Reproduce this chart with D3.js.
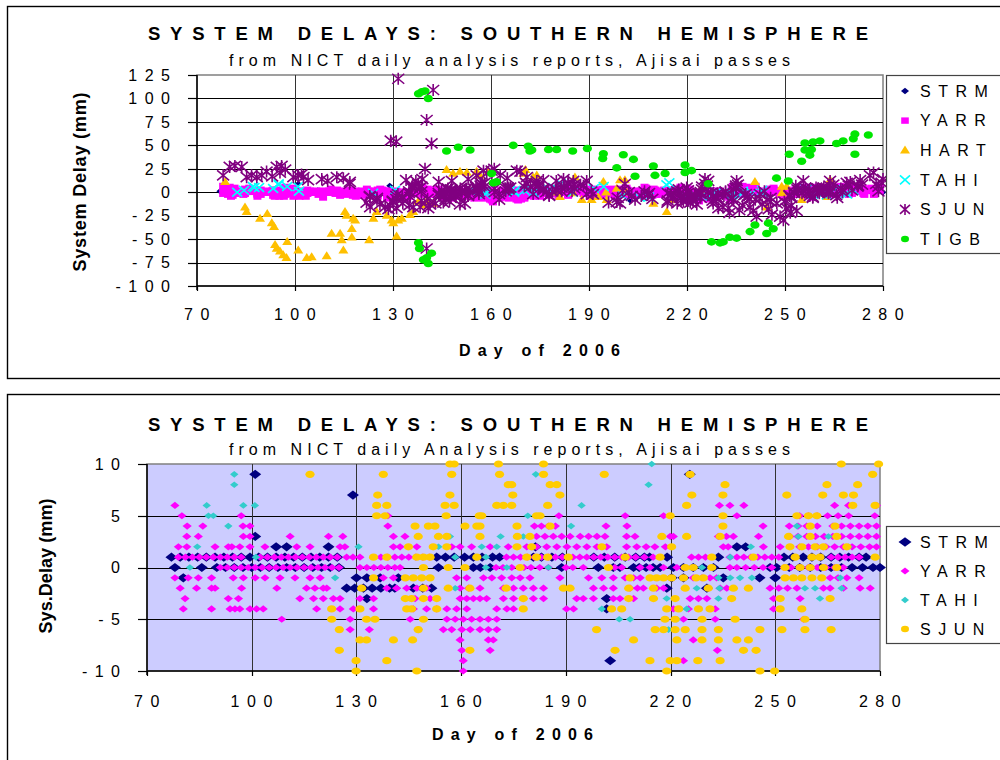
<!DOCTYPE html>
<html><head><meta charset="utf-8">
<script src="https://cdn.jsdelivr.net/npm/d3@7"></script>
<style>
html,body{margin:0;padding:0;background:#fff;}
svg{display:block;font-family:Arial,"Liberation Sans",sans-serif;}
</style></head><body>
<svg id="c" width="1000" height="760"></svg>
<script>
// ---------- tick labels / categories ----------
const dayTicks = [70,100,130,160,190,220,250,280];
const topYTicks = [-100,-75,-50,-25,0,25,50,75,100,125];
const botYTicks = [-10,-5,0,5,10];
const topSeriesNames = ["STRM","YARR","HART","TAHI","SJUN","TIGB"];
const botSeriesNames = ["STRM","YARR","TAHI","SJUN"];

// ---------- station delays (mm) by level: [value, [days...]] ----------
const STRM = [
 [9,[101,225.5]],[7,[129]],[3,[101]],
 [2,[107,110,122,181.3,239,241.5]],
 [1,[77,79.5,82,84.5,87,89.5,92,94.5,97,99.5,102,104.5,107,109.5,112,114.5,117,119.5,122,124.5,153,155.5,158,161,163.5,166,169,171,180.7,183,186,189,198,201,204,207,210,212.5,214,219,233.7,252.5,255,258,260.5,263,266,268.5,271,274,276]],
 [0,[78,85.7,90,92.5,95,97.5,100,102.5,105,107.5,110,112.5,115,117.5,120,122.5,125,153.5,163.5,165.5,168.3,188.8,199.3,203.6,205.5,209.4,211,213,215,217,220.8,223.7,226.5,229.4,232.3,248.5,250.4,254,257,260,263,266,269,272,275,278,280]],
 [-1,[80.4,130,133,136.8,142,220.3,223.7,235.1,245.5,250]],
 [-2,[127.2,129.5,132,134.5,137,139.5,141,146.3,149,151.5,218.9,230.4]],
 [-3,[133,201.7]],[-4,[201.7]],[-9,[202.7]]
];
const YARR = [
 [6,[78,234,237,241,267,271,279]],
 [5,[80,97,139,188,207,218,239,257,259.5,262,265,268,271,278.5]],
 [4,[81.5,86,97.5,99.5,139,181,183,185,187,201.5,207.5,246.5,254,256.5,259,262,266.5,269,271.5,274,276.5,279]],
 [3,[81.4,84.7,97.6,99.5,111,122,126.1,140.6,143.9,181.6,184,186.4,188.8,191.2,194.1,196.5,198.9,201.2,207.4,209.8,219.9,220.8,233.7,236,238,245.2,254.2,256.5,259,261.5,264,266.5,269,271.5,274,276.5,279]],
 [2,[79,81.4,89.5,93.3,94.3,96.6,99.5,103.8,112.9,116.7,125.3,126.7,140.6,142.5,147.3,157.3,159.7,163,168.3,173.5,178.8,181.6,184.5,187.4,190.3,193.1,196,198.9,201.7,207.4,210.3,213,215.5,218.5,235.1,236.5,246.6,251.4,257,259.5,262,264.5,267,269.5,272,274.5,277,279]],
 [1,[79,81,83,85,87,89,91,93,95,97,102.4,104.5,106.5,108.5,110.5,112.5,114.5,116.5,118.5,120.5,122.5,124.5,127.2,129,131,137,139,141,143,145,147,149,151,173,175,177,179,181,183,185,187,189,192,194,196,198,200,202,204,206,208,210,212.5,215,226,228,230,237,239,241,243,245,247,249,251,266,268,270,272,274]],
 [0,[91,93,95,97,99,101,103,105,107,109,111,113,115,117,119,121,123,125,131,133,135,137,139,141,142.5,170,172,174.5,178,180,182.5,185,190,192,195,204,206,211.3,214.1,218,221.8,237,239,241.5,244,246.5,249,252.5,254.5,257,259.5,262,264.5,267,269.5]],
 [-1,[78,81.8,84.7,88.5,94.7,97.6,101,103.8,108.1,112.4,116.7,119.6,137.7,140.6,158.7,161.6,166.4,168.8,171.6,174.5,176.9,179.7,188.3,196.5,200.3,203.6,207,209.4,211.3,226.5,229,231.3,233.2,265.7,268,270.5,274]],
 [-2,[79.5,84.2,88.5,89.5,97.1,107.2,115.7,118.1,120.5,121.5,138.7,141.5,144.4,147.3,150.1,159.7,162.1,165.4,172.1,175,177.8,180.7,183.6,197.9,200.8,203.6,208.4,210.5,212.2,216,218,234.2,236.1,248.5,251,253.5,256.2,263.8,265.7,269.5,274.3,277.2]],
 [-3,[80.9,93.3,96.2,113.8,117.7,120.5,123.4,125.3,131,134.9,146.8,151.1,159.7,161.6,163.5,165.4,167.3,172.1,175,177.8,180.7,183.6,193.1,195,197.9,203.6,205.5,209.4,225.6,228,230.4,249.5,257.1]],
 [-4,[80.4,88.5,93.8,95.2,96.6,99.5,101.4,103.3,118.6,125.3,129.1,134.9,146.3,150.1,153,155.9,158.7,161.6,170.2,173.1,175,190.2,192.2,220.8,225.1,232.8,249.5]],
 [-5,[108.6,128.2,145.4,155.9,158.3,160.6,163,165.4,167.8,170.2,223.7,232.8,258.1]],
 [-6,[128.2,133.7,147.7,154.9,157.3,160.2,162.6,165.4,167.8,170.2]],
 [-7,[159.7,167.8,169.2,226.5]],[-8,[160.2,168.3,233.4]],[-9,[160.6,223.7]],[-10,[160.6]]
];
const TAHI = [
 [10,[214.6]],[9,[95,181.4]],[8,[95,213.7]],[6,[87.1,97.6,100.9,194.5]],[5,[87.6,89,179.1]],
 [4,[93.3,191.5,256.2]],[3,[156.8,171.3,177.8,256.6,265.2]],
 [2,[84.4,130.6,153.5,165.9,170.2,243,271]],[1,[101.2,158.3,167.1,237.1]],
 [0,[82.3,167.1,173.1,185,229]],[-1,[123.9,233.7,237.1,239.9,243.3,268.6]],
 [-2,[158.3,227.5,234,258.5,261.4,269]],[-3,[218.9,233.7,262.8]],
 [-4,[200.3,222.7,224.6]],[-5,[205.3,208.4,221.8]],[-6,[219.4]]
];
const SJUN = [
 [10,[156.8,158,170.7,183.6,268.9,279.6]],
 [9,[116.7,137.7,157.3,171,183.6,201,225.6,277.9]],
 [8,[173.5,174.5,185.5,187.4,235.6,264.8,273.6]],
 [7,[136.1,156.8,174.8,188.3,226.1,235,253.3,263.6,269.5,272.4]],
 [6,[135.8,138.7,155.4,158,170.2,172.1,174.5,184.8,224.6,272.2,278.6]],
 [5,[135.8,138.2,155.7,165.2,165.9,181.6,182.6,219.9,235,256.2,259.5,261.9]],
 [4,[146.8,150.6,152.5,161.1,164.5,165.4,176,185.5,235,260,267.1]],
 [3,[147.7,153.5,155.9,165.4,176.1,179.7,217.5,224.6,234.2,253.8,260,267.6]],
 [2,[144.9,152,155.9,176,180.2,200.3,220.3,254.2,257.6,261.4,263.8,270.5]],
 [1,[134.9,138.7,147.3,149.2,151.1,164.5,178.8,181.6,184.8,190.7,207,217,231.8,243.7,255.7,260.5,262.8,278.6]],
 [0,[149.2,156.3,161.1,176.9,202.2,224.2,226.5,231.8,252.8,257.1,260,263.8,267.6]],
 [-1,[134.9,144,146.3,148.7,151.1,208.4,214.1,216,218,220.3,223.7,227.3,229.4,252.8,255.2,257.6,260.5,263.3]],
 [-2,[131.5,149.2,156.3,162.5,172.9,189.3,191.2,208,215.1,224.2,230.8,238,242.3]],
 [-3,[144,145.8,149.2,153,177.8,208,215.1,221.3,237.5,251.4,265.7]],
 [-4,[122.9,131,144.4,145.8,153,177.8,203.1,206,218.9,222.3,228,231.3,251.4,257.6]],
 [-5,[122.9,132.9,135.3,149.2,218.4,221.3,229,238.5,258.5]],
 [-6,[125.1,147.7,198.8,215.6,218,221.3,224.2,229,233.7,245.6,251.9,258.5,266]],
 [-7,[131,132.9,140.6,146.1,209.4,221.8,229,233.7,239,242.3]],
 [-8,[125.1,162.5,204.1,240.9,244.5]],
 [-9,[129.9,138.7,214.1,219.9,221.8,227.8,234.2]],
 [-10,[129.9,147.3,218.9,245.6,249.8]]
];
// SJUN values beyond +/-10 mm (visible only in the wide-range chart): [day, value]
const SJUN_WIDE = [
 [78,18],[80,27],[81.6,28],[83.7,27],[85.2,16],[86.7,18],[88.3,16],[89.8,18],[91.3,22],[93,17],[94.4,27],[95.4,21],[95.9,28],[97,24],[99.5,16],[101,18],[102,19],[102.6,16],[104,13],[108.2,14],[110,12],[112.8,16],[114.8,15],[116.8,11],
 [121.9,-11],[123,-16],[126,-13],[127.6,-16],[128.6,-18],[129.1,-14],[131.1,-17],[133,-12],[135,-14],[136.2,-16],[138.3,-16],[140.8,-17],[141.3,-13],[143,-12],[145.4,-11],[150.5,-13],[152,-12],
 [134,13],[137,12],[139,14],[144,11],[148,12],[153,14],[155.6,18],[157.7,23],[158.7,20],[160.2,23],[161,25],[162.8,18],[165,15],[167.9,23],
 [129.3,55],[131,54],[131.6,121],[140.3,77],[142.3,109],[141.8,52],[139.8,25],[140.3,-60],
 [169,22],[171,16],[174,12],[176,13],[180,12],[182.2,14],[185.2,12],[189.3,12],[196,-11],[198.5,-10.5],[199.5,-12],
 [214,-11],[217,-12],[221,-11],[223,-13],[225.5,14],[226.5,12],[228,-12],[229.6,-17],[231,-16],[233,-22],[232.7,-17],[235.2,12],[236,-19],[237,-14],[239.3,-16],[240.3,-20],[241.3,-26],
 [243,-13],[245,-18],[246,-24],[247.5,-12],[248.5,-26],[249.5,-30],[250.5,-17],[251.6,-22],[252,-14],[253.6,-20],
 [255.6,12],[263.8,12],[270,11],[273,13],[276,18],[277.1,21],[280,14]
];
const HART = [
 [78.6,11],[84.7,-16],[85.2,-21],[89.3,-28],[91.5,-23],[92.9,-33],[93.6,-37],[93.9,-56],[94.4,-60],[95.4,-63],[96.4,-67],[97.4,-70],[97.6,-53],[101,-62],[103.6,-70],[105.1,-69],[109.7,-68],[111.2,-44],[113.8,-44],[114.3,-51],[114.8,-62],[115.3,-21],[115.8,-25],[117.4,-39],[117.8,-28],[118.4,-30],[117.4,-48],[122.7,-51],[124,-28],[125,-21],[128.1,-25],[129.6,-30],[130.1,-33],[131.1,-47],[131.6,-30],[132.7,-28],[135.2,-24],[136.2,-21],[137.7,-10],[139.3,-14],[140.3,-10],[142.3,-12],
 [146.4,24],[148.4,20],[150.5,22],[152.6,21],[155.6,22],[156.6,18],[159.2,22],[169.9,20],[170.5,24],[172.9,16],[174,18],[179.6,0],[181.1,-5],[185.2,-1],[185.7,16],[187.8,-8],[190.8,-8],[192.8,-5],[194.4,11],[195.2,0],[195.4,-8],[198.5,4],[199.5,13],[201,13],[201.5,0],[209.7,-12],[213.8,-21],[215.8,-8],[224,2],[240.8,11],[244.4,-16],[249,6],[249,-1],[250.5,6],[255.1,-8],[262.8,-5],[263.8,13]
];
const TIGB = [
 [137.8,105],[138.8,107],[139.8,108],[140.8,100],
 [137.8,-54],[138.1,-60],[139.3,-72],[140.3,-70],[140.8,-76],[141.8,-65],
 [146.4,44],[150,48],[153.6,45],[160.2,20],[160.7,10],[161.7,11],[166.8,50],[171.4,49],[171.9,44],
 [172.5,45],[177.6,45.5],[180.1,45.5],[185,44],[189.5,46.6],[194.4,41],[194.2,36],[200.5,40],[203.6,35],[198.5,26],[204.1,17],
 [209.7,28],[210.2,18],[213.3,20],[219.4,29],[219.4,21],[221.4,23],[226.5,9],
 [227.5,-53],[230.1,-54],[231.1,-53],[233.1,-48],[235.2,-49],[239.3,-42],[240.8,-35],[244.4,-44],[244.9,-33],[246.4,-39],
 [247.4,15],[251,12],[251.3,40.5],[255.1,33],[256.1,52.5],[256.1,45],[257.6,39.5],[258.1,45.5],[258.6,53.6],[260.7,54.7],
 [265.8,52],[267.8,54.7],[270.9,57],[271.4,62],[275.5,61],[271.4,40.5]
];

// ---------- helpers ----------
const flat = rows => rows.flatMap(([v, ds]) => ds.map(d => [d, v]));
const shapes = {
  diamond: (w,h) => `M0,${-h}L${w},0L0,${h}L${-w},0Z`,
  square: (w,h) => `M${-w},${-h}H${w}V${h}H${-w}Z`,
  triangle: (w,h) => `M0,${-h*0.6}L${w},${h*0.4}L${-w},${h*0.4}Z`,
  cross: (w,h) => `M${-w},${-h}L${w},${h}M${-w},${h}L${w},${-h}`,
  star: (w,h) => `M${-w},${-h}L${w},${h}M${-w},${h}L${w},${-h}M0,${-h-1}V${h+1}`,
  ellipse: (w,h) => `M${-w},0A${w},${h} 0 1,0 ${w},0A${w},${h} 0 1,0 ${-w},0Z`
};
const FONT = "Arial, 'Liberation Sans', sans-serif";
const svg = d3.select("#c");

function marks(g, data, x, y, st) {
  const p = shapes[st.shape](st.w, st.h);
  g.append("g").selectAll("path").data(data).join("path")
    .attr("transform", d => `translate(${x(d[0]).toFixed(2)},${y(d[1]).toFixed(2)})`)
    .attr("d", p)
    .attr("fill", st.stroke ? "none" : st.color)
    .attr("stroke", st.stroke ? st.color : "none")
    .attr("stroke-width", st.stroke || 0);
}
function legendMark(g, cx, cy, st) {
  g.append("path").attr("transform", `translate(${cx},${cy})`)
    .attr("d", shapes[st.shape](st.lw, st.lh))
    .attr("fill", st.stroke ? "none" : st.color)
    .attr("stroke", st.stroke ? st.color : "none")
    .attr("stroke-width", st.stroke || 0);
}
function spacedText(g, txt, x, y, opt) {
  const t = g.append("text").attr("x", x).attr("y", y).text(txt)
    .attr("font-family", FONT).attr("font-size", opt.size).attr("fill", "#000");
  if (opt.bold) t.attr("font-weight", "bold");
  if (opt.len) t.attr("textLength", opt.len).attr("lengthAdjust", "spacing");
  if (opt.ls) t.attr("letter-spacing", opt.ls);
  if (opt.anchor) t.attr("text-anchor", opt.anchor);
  if (opt.dy) t.attr("dy", opt.dy);
  if (opt.rot) t.attr("transform", `rotate(-90,${x},${y})`);
  return t;
}

function panel(cfg) {
  const g = svg.append("g");
  // outer frame
  g.append("rect").attr("x", 7.5).attr("y", cfg.boxTop + 0.5).attr("width", 1020).attr("height", cfg.boxH)
    .attr("fill", "#fff").attr("stroke", "#000").attr("stroke-width", 1.4);
  const x = d3.scaleLinear().domain([70, 280]).range([cfg.px0, cfg.px1]);
  const y = d3.scaleLinear().domain(cfg.yDomain).range([cfg.py1, cfg.py0]);
  // plot area
  g.append("rect").attr("x", cfg.px0).attr("y", cfg.py0).attr("width", cfg.px1 - cfg.px0).attr("height", cfg.py1 - cfg.py0)
    .attr("fill", cfg.bg).attr("stroke", "#808080").attr("stroke-width", 1.5);
  // grid
  const yt = cfg.yTicks, [ymin, ymax] = cfg.yDomain;
  g.append("g").selectAll("line").data(yt.filter(v => v > ymin && v < ymax)).join("line")
    .attr("x1", cfg.px0).attr("x2", cfg.px1).attr("y1", d => Math.round(y(d)) + 0.5).attr("y2", d => Math.round(y(d)) + 0.5)
    .attr("stroke", "#000").attr("stroke-width", 1);
  g.append("g").selectAll("line").data(dayTicks.filter(v => v > 70 && v < 280)).join("line")
    .attr("y1", cfg.py0).attr("y2", cfg.py1).attr("x1", d => Math.round(x(d)) + 0.5).attr("x2", d => Math.round(x(d)) + 0.5)
    .attr("stroke", "#333").attr("stroke-width", 1);
  // axes lines
  g.append("line").attr("x1", cfg.px0).attr("x2", cfg.px0).attr("y1", cfg.py0).attr("y2", cfg.py1 + 4).attr("stroke", "#000").attr("stroke-width", 1.5);
  g.append("line").attr("x1", cfg.px0).attr("x2", cfg.px1).attr("y1", cfg.py1).attr("y2", cfg.py1).attr("stroke", "#000").attr("stroke-width", 1.5);
  // ticks
  g.append("g").selectAll("line").data(yt).join("line")
    .attr("x1", cfg.px0 - 9).attr("x2", cfg.px0).attr("y1", d => Math.round(y(d)) + 0.5).attr("y2", d => Math.round(y(d)) + 0.5)
    .attr("stroke", "#000").attr("stroke-width", 1.2);
  g.append("g").selectAll("line").data(dayTicks).join("line")
    .attr("y1", cfg.py1).attr("y2", cfg.py1 + 5).attr("x1", d => Math.round(x(d)) + 0.5).attr("x2", d => Math.round(x(d)) + 0.5)
    .attr("stroke", "#000").attr("stroke-width", 1.2);
  // tick labels
  yt.forEach(v => spacedText(g, String(v), cfg.ylabX, y(v), {size: 16, ls: 7.5, anchor: "end", dy: "0.36em"}));
  dayTicks.forEach(d => spacedText(g, String(d), x(d) + 3.5, cfg.xlabY, {size: 16, ls: 7.5, anchor: "middle"}));
  // titles
  spacedText(g, "SYSTEM DELAYS: SOUTHERN HEMISPHERE", 148, cfg.titleY, {size: 18.5, bold: true, len: 720});
  spacedText(g, cfg.subtitle, 229, cfg.subY, {size: 16, len: 561});
  spacedText(g, "Day of 2006", cfg.xtX, cfg.xtY, {size: 16, bold: true, len: 161});
  spacedText(g, cfg.ytitle, cfg.ytX, cfg.ytY, {size: 18, bold: true, len: cfg.ytLen, anchor: "middle", rot: true});
  // series
  const mg = g.append("g");
  cfg.series.forEach(s => marks(mg, s.data.filter(d => d[1] >= ymin && d[1] <= ymax), x, y, s));
  // legend
  g.append("rect").attr("x", 886.5).attr("y", cfg.legY + 0.5).attr("width", 140).attr("height", cfg.legH)
    .attr("fill", "#fff").attr("stroke", "#444").attr("stroke-width", 1.2);
  cfg.series.forEach((s, i) => {
    const cy = cfg.legY + cfg.leg0 + i * cfg.legStep;
    legendMark(g, 905, cy, s);
    spacedText(g, s.name, 920, cy, {size: 16, ls: 7.5, dy: "0.36em"});
  });
}

// ---------- top panel ----------
panel({
  boxTop: 6, boxH: 372, px0: 197, px1: 883, py0: 75, py1: 286,
  yDomain: [-100, 125], yTicks: topYTicks, bg: "#fff",
  ylabX: 177.5, xlabY: 320, titleY: 40, subY: 66,
  subtitle: "from NICT daily analysis reports, Ajisai passes",
  xtX: 459, xtY: 356, ytitle: "System Delay (mm)", ytX: 86, ytY: 182, ytLen: 179,
  legY: 75, legH: 178, leg0: 16, legStep: 29.6,
  series: [
    {name: topSeriesNames[0], data: flat(STRM), shape: "diamond", w: 3.5, h: 3, lw: 4, lh: 3.2, color: "#000080"},
    {name: topSeriesNames[1], data: flat(YARR), shape: "square", w: 4, h: 3.8, lw: 3.8, lh: 3.2, color: "#FF00FF"},
    {name: topSeriesNames[2], data: HART, shape: "triangle", w: 5, h: 8, lw: 5, lh: 8, color: "#FFC000"},
    {name: topSeriesNames[3], data: flat(TAHI), shape: "cross", w: 5, h: 4.4, lw: 5, lh: 4.5, color: "#00FFFF", stroke: 1.6},
    {name: topSeriesNames[4], data: flat(SJUN).concat(SJUN_WIDE), shape: "star", w: 6, h: 5, lw: 5, lh: 4.5, color: "#800080", stroke: 1.6},
    {name: topSeriesNames[5], data: TIGB, shape: "ellipse", w: 4.6, h: 3.8, lw: 4, lh: 3.2, color: "#00E600"}
  ]
});

// ---------- bottom panel ----------
panel({
  boxTop: 394, boxH: 400, px0: 147, px1: 880, py0: 464, py1: 671,
  yDomain: [-10, 10], yTicks: botYTicks, bg: "#CCCCFF",
  ylabX: 127.5, xlabY: 707, titleY: 431, subY: 455,
  subtitle: "from NICT daily Analysis reports, Ajisai passes",
  xtX: 432, xtY: 740, ytitle: "Sys.Delay (mm)", ytX: 52, ytY: 566, ytLen: 135,
  legY: 526, legH: 117, leg0: 16, legStep: 29,
  series: [
    {name: botSeriesNames[0], data: flat(STRM), shape: "diamond", w: 6, h: 4.6, lw: 6.5, lh: 4.8, color: "#000080"},
    {name: botSeriesNames[1], data: flat(YARR), shape: "diamond", w: 4.6, h: 3.6, lw: 4.5, lh: 3.4, color: "#FF00FF"},
    {name: botSeriesNames[2], data: flat(TAHI), shape: "diamond", w: 4.2, h: 3.3, lw: 4, lh: 3.2, color: "#33CCCC"},
    {name: botSeriesNames[3], data: flat(SJUN), shape: "ellipse", w: 4.6, h: 3.6, lw: 4, lh: 3.2, color: "#FFCC00"}
  ]
});
</script>
</body></html>
